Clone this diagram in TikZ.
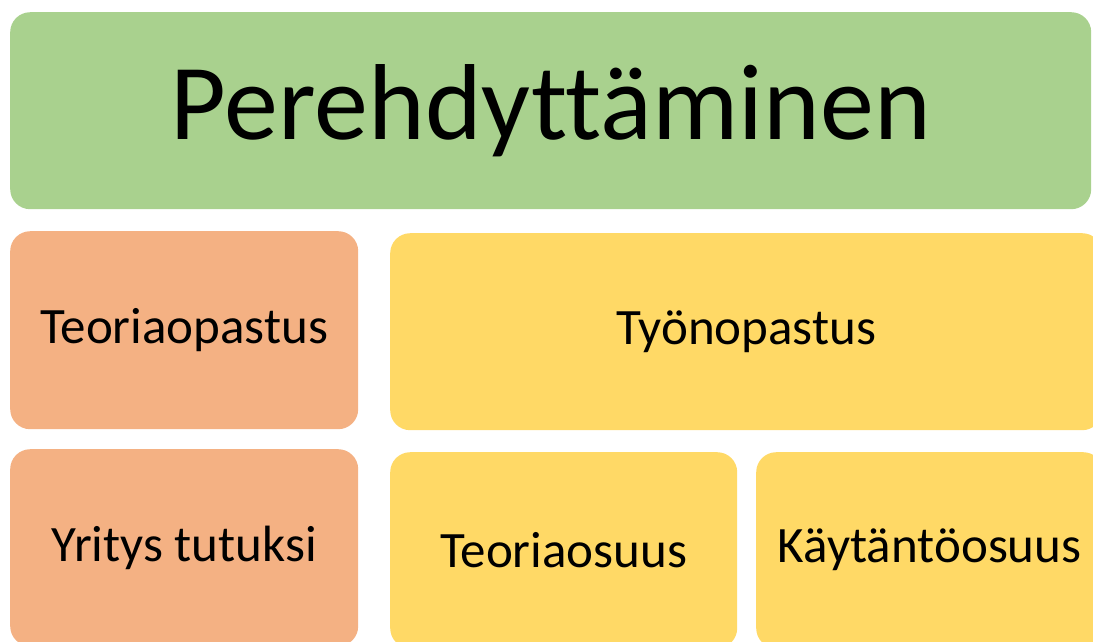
\documentclass[tikz,border=0pt]{standalone}
\usepackage{fontspec}
\setmainfont{Carlito}[Ligatures=CommonOff]
\definecolor{vihrea}{HTML}{A9D18E}
\definecolor{oranssi}{HTML}{F4B183}
\definecolor{keltainen}{HTML}{FFD966}
\begin{document}
\begin{tikzpicture}[x=1pt, y=-1pt,
    laatikko/.style={rounded corners=20pt, inner sep=0pt, anchor=north west},
    pieni/.style={font=\fontsize{51}{51}\selectfont}]
\useasboundingbox (0,0) rectangle (1093,641);
\clip (0,0) rectangle (1093,641);
% otsikko
\node[laatikko, fill=vihrea, minimum width=1081pt, minimum height=197pt,
    font=\fontsize{108}{108}\selectfont] (pere) at (10,12) {Perehdyttäminen};
% vasen sarake
\node[laatikko, pieni, fill=oranssi, minimum width=348pt, minimum height=198pt] (teoria) at (10,231) {Teoriaopastus};
\node[laatikko, pieni, fill=oranssi, minimum width=348pt, minimum height=197pt] (yritys) at (10,449) {Yritys tutuksi};
% oikea puoli
\node[laatikko, pieni, fill=keltainen, minimum width=712pt, minimum height=197pt] (tyo) at (390,233) {Työnopastus};
\node[laatikko, pieni, fill=keltainen, minimum width=347pt, minimum height=196pt] (osuus) at (390,452) {Teoriaosuus};
\node[laatikko, pieni, fill=keltainen, minimum width=347pt, minimum height=196pt] (kaytanto) at (756,452) {Käytäntöosuus};
\end{tikzpicture}
\end{document}
